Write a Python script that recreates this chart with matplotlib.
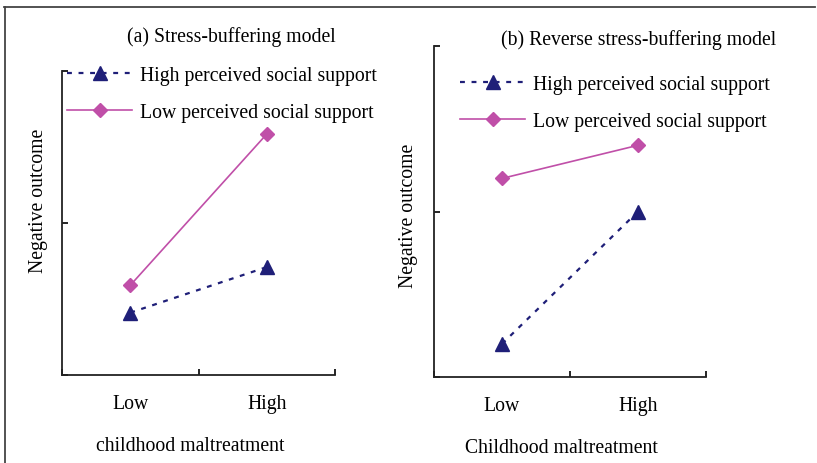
import matplotlib.pyplot as plt
from matplotlib.lines import Line2D

plt.rcParams['font.family'] = ['Liberation Serif', 'DejaVu Serif']
plt.rcParams['font.size'] = 14.2

# Simple-slope values (arbitrary units) at low / high childhood maltreatment
groups = ["Low", "High"]
buffer_high_support = [0.41, 0.71]
buffer_low_support = [0.59, 1.585]
reverse_high_support = [0.20, 1.00]
reverse_low_support = [1.20, 1.40]

navy = '#1f1f78'
pink = '#c04fa8'
W, H = 817, 464

fig = plt.figure(figsize=(W / 100, H / 100), dpi=100)


def px_axes(left, top, right, bottom):
    return fig.add_axes([left / W, 1 - bottom / H, (right - left) / W, (bottom - top) / H])


def draw_panel(ax, high, low, legend_xy, xlabel, ylabel_xy, xlabel_xy):
    xs = [0.5, 1.5]
    ax.plot(xs, high, color=navy, lw=1.6, ls=(0, (2.2, 3)), marker='^', ms=9.5,
            label='High perceived social support')
    ax.plot(xs, low, color=pink, lw=1.2, marker='D', ms=7,
            label='Low perceived social support')
    ax.set_xlim(0, 2)
    ax.set_ylim(0, 2)
    ax.set_xticks([0, 1, 2])
    ax.set_xticklabels([])
    ax.set_xticks(xs, minor=True)
    ax.set_xticklabels(groups, minor=True)
    ax.set_yticks([0, 1, 2])
    ax.set_yticklabels([])
    ax.tick_params(axis='both', which='major', direction='in', length=4, width=1.2)
    ax.tick_params(axis='x', which='minor', length=0, pad=14)
    for s in ['top', 'right']:
        ax.spines[s].set_visible(False)
    for s in ['left', 'bottom']:
        ax.spines[s].set_linewidth(1.3)
        ax.spines[s].set_color('#222222')
    ax.set_ylabel('Negative outcome')
    ax.yaxis.set_label_coords(*ylabel_xy)
    ax.set_xlabel(xlabel)
    ax.xaxis.set_label_coords(*xlabel_xy)
    ax.xaxis.label.set_va('center')
    ax.yaxis.label.set_va('center')
    ax.legend(loc='upper left', bbox_to_anchor=(legend_xy[0] / W, 1 - legend_xy[1] / H),
              bbox_transform=fig.transFigure, frameon=False, borderpad=0,
              borderaxespad=0, handlelength=3.3, handletextpad=0.4,
              labelspacing=0.9)


ax1 = px_axes(62, 72, 335, 376)
draw_panel(ax1, buffer_high_support, buffer_low_support, (67, 67),
           'childhood maltreatment', (-0.085, 0.576), (0.469, -0.232))

ax2 = px_axes(434, 47, 706, 378)
draw_panel(ax2, reverse_high_support, reverse_low_support, (460, 76),
           'Childhood maltreatment', (-0.095, 0.49), (0.469, -0.2115))

fig.text(231 / W, 1 - 37 / H, '(a) Stress-buffering model', ha='center', va='center')
fig.text(639 / W, 1 - 40 / H, '(b) Reverse stress-buffering model', ha='center', va='center')

# frame lines along the top and left edge
fig.add_artist(Line2D([4 / W, 815 / W], [1 - 8 / H, 1 - 8 / H], color='#444444', lw=1.3))
fig.add_artist(Line2D([5 / W, 5 / W], [1 - 8 / H, 0], color='#444444', lw=1.3))

fig.savefig('out.png', dpi=100)
